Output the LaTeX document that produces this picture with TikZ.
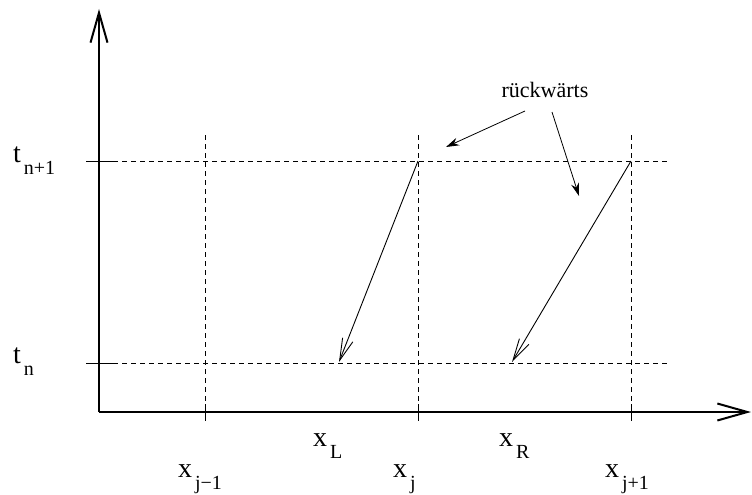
\documentclass[tikz,border=0pt]{standalone}
\usepackage{fontspec}
\setmainfont{Liberation Serif}
\usetikzlibrary{arrows.meta}
\newcommand{\mylab}[2]{\fontsize{28}{28}\selectfont #1\hspace{3pt}\raisebox{-12pt}{\fontsize{20}{20}\selectfont #2}}
\tikzset{
  axis/.style={line width=2pt,-{Straight Barb[length=30pt,width=17pt,line width=2pt]}},
  grid/.style={line width=0.8pt,dash pattern=on 5pt off 4pt},
  tick/.style={line width=1pt},
  back/.style={line width=0.9pt,-{Straight Barb[length=22pt,width=11pt,line width=0.9pt]}},
  note/.style={line width=0.8pt,-{Stealth[length=13pt,width=8pt]}},
  lab/.style={anchor=base west,inner sep=0pt,outer sep=0pt},
}
\begin{document}
\begin{tikzpicture}[x=1pt,y=-1pt]
\useasboundingbox (0,0) rectangle (752,495);
% coordinates
\coordinate (O) at (99,412);
\coordinate (ytop) at (99,9);
\coordinate (xend) at (751,412);
\coordinate (tn1L) at (86,161);
\coordinate (tn1a) at (113,161);
\coordinate (tn1b) at (670,161);
\coordinate (tnL) at (86,363);
\coordinate (tna) at (113,363);
\coordinate (tnb) at (670,363);
\coordinate (v1t) at (205,135);
\coordinate (v1a) at (205,404);
\coordinate (v1b) at (205,421);
\coordinate (v2t) at (418,135);
\coordinate (v2a) at (418,404);
\coordinate (v2b) at (418,421);
\coordinate (v3t) at (631,135);
\coordinate (v3a) at (631,404);
\coordinate (v3b) at (631,421);
\coordinate (P1) at (418,161);
\coordinate (Q1) at (339,362);
\coordinate (P2) at (631,161);
\coordinate (Q2) at (512,362);
\coordinate (n1s) at (525,111);
\coordinate (n1e) at (446,147);
\coordinate (n2s) at (552,112);
\coordinate (n2e) at (579,196);
% axes
\draw[axis] (O) -- (ytop);
\draw[axis] (O) -- (xend);
% time lines
\draw[tick] (tn1L) -- (tn1a);
\draw[grid] (tn1a) -- (tn1b);
\draw[tick] (tnL) -- (tna);
\draw[grid] (tna) -- (tnb);
% space lines
\draw[grid] (v1t) -- (v1a);
\draw[tick] (v1a) -- (v1b);
\draw[grid] (v2t) -- (v2a);
\draw[tick] (v2a) -- (v2b);
\draw[grid] (v3t) -- (v3a);
\draw[tick] (v3a) -- (v3b);
% backward characteristics
\draw[back] (P1) -- (Q1);
\draw[back] (P2) -- (Q2);
% annotation
\node[anchor=base,inner sep=0pt,font=\fontsize{22}{22}\selectfont] (rw) at (545,97) {rückwärts};
\draw[note] (n1s) -- (n1e);
\draw[note] (n2s) -- (n2e);
% labels
\node[lab] (ltn1) at (13,162) {\mylab{t}{n+1}};
\node[lab] (ltn) at (13,363) {\mylab{t}{n}};
\node[lab] (lxj1) at (178,477) {\mylab{x}{j−1}};
\node[lab] (lxL) at (313,446) {\mylab{x}{L}};
\node[lab] (lxj) at (393,477) {\mylab{x}{j}};
\node[lab] (lxR) at (499,446) {\mylab{x}{R}};
\node[lab] (lxjp) at (605,477) {\mylab{x}{j+1}};
\end{tikzpicture}
\end{document}
